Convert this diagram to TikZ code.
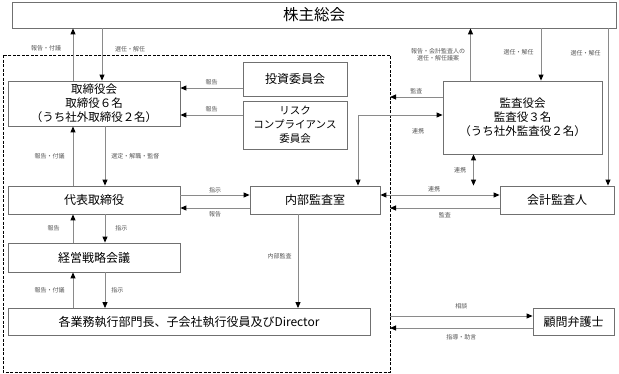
\documentclass[tikz,border=0pt]{standalone}
\usepackage{fontspec}
\setmainfont{Noto Sans CJK JP}
\usetikzlibrary{arrows.meta}
\definecolor{boxgray}{HTML}{707070}
\definecolor{linegray}{HTML}{8A8A8A}
\definecolor{labgray}{HTML}{555555}
\tikzset{
  box/.style={draw=boxgray, line width=0.8pt, fill=white, inner sep=0pt, align=center,
    font=\fontsize{12}{14}\selectfont},
  tip/.tip={Triangle[length=6pt,width=5pt,color=black]},
  arr/.style={draw=linegray, line width=0.9pt, -tip},
  darr/.style={draw=linegray, line width=0.9pt, tip-tip},
  lab/.style={font=\fontsize{6}{7}\selectfont, text=labgray, inner sep=1pt, align=center},
  dashbox/.style={draw=black, line width=1pt, dash pattern=on 3pt off 1.5pt}
}
\begin{document}
\begin{tikzpicture}[x=1pt,y=-1pt]
\useasboundingbox (0,0) rectangle (619,373);
% dashed region
\draw[dashbox] (3,55) rectangle (390,372);
% boxes
\node[box, minimum width=604, minimum height=26, font=\fontsize{15.5}{17}\selectfont] (sh) at (314,15) {株主総会};
\node[box, minimum width=172, minimum height=45, font=\fontsize{11.5}{14}\selectfont] (bod) at (94,103.5) {取締役会\\取締役６名\\（うち社外取締役２名）};
\node[box, minimum width=104, minimum height=34] (inv) at (295,79) {投資委員会};
\node[box, minimum width=104, minimum height=48, font=\fontsize{10.5}{14}\selectfont] (risk) at (295,125) {リスク\\コンプライアンス\\委員会};
\node[box, minimum width=172, minimum height=28] (rep) at (94,200) {代表取締役};
\node[box, minimum width=130, minimum height=28] (ia) at (315,200) {内部監査室};
\node[box, minimum width=159, minimum height=73, font=\fontsize{11.5}{14}\selectfont] (kan) at (522.5,117.5) {監査役会\\監査役３名\\（うち社外監査役２名）};
\node[box, minimum width=114, minimum height=28] (aud) at (557,200) {会計監査人};
\node[box, minimum width=172, minimum height=29] (strat) at (94,257.5) {経営戦略会議};
\node[box, minimum width=362, minimum height=27] (exec) at (189,322) {各業務執行部門長、子会社執行役員及びDirector};
\node[box, minimum width=81, minimum height=27] (law) at (573.5,322) {顧問弁護士};
% coordinates on the dashed boundary
\coordinate (bA) at (390,97);
\coordinate (bB) at (390,208);
\coordinate (bC) at (390,316);
\coordinate (bD) at (390,328);
\coordinate (cT) at (358,115);
% shareholders <-> board
\draw[arr] ([xshift=-21pt]bod.north) -- ([xshift=-21pt]bod.north |- sh.south);
\node[lab] (l1) at (46,48) {報告・付議};
\draw[arr] ([xshift=8pt]bod.north |- sh.south) -- ([xshift=8pt]bod.north);
\node[lab] (l2) at (130,49) {選任・解任};
% committees -> board
\draw[arr] (inv.west |- 0,88) -- (bod.east |- 0,88) node[lab, pos=0.5, above=2pt] {報告};
\draw[arr] (risk.west |- 0,115) -- (bod.east |- 0,115) node[lab, pos=0.5, above=2pt] {報告};
% board <-> representative director
\draw[arr] ([xshift=-21pt]rep.north) -- ([xshift=-21pt]rep.north |- bod.south)
  node[lab, pos=0.5, left=7pt] {報告・付議};
\draw[arr] ([xshift=11pt]rep.north |- bod.south) -- ([xshift=11pt]rep.north)
  node[lab, pos=0.5, right=5pt] {選定・解職・監督};
% representative <-> internal audit office
\draw[arr] (rep.east |- 0,195) -- (ia.west |- 0,195) node[lab, pos=0.5, above=1pt] {指示};
\draw[arr] (ia.west |- 0,208) -- (rep.east |- 0,208) node[lab, pos=0.5, below=2pt] {報告};
% representative <-> strategy meeting
\draw[arr] ([xshift=-21pt]strat.north) -- ([xshift=-21pt]strat.north |- rep.south)
  node[lab, pos=0.5, left=12pt] {報告};
\draw[arr] ([xshift=11pt]strat.north |- rep.south) -- ([xshift=11pt]strat.north)
  node[lab, pos=0.5, right=9pt] {指示};
% strategy meeting <-> executives
\draw[arr] ([xshift=-21pt]strat.south |- exec.north) -- ([xshift=-21pt]strat.south)
  node[lab, pos=0.5, left=7pt] {報告・付議};
\draw[arr] ([xshift=11pt]strat.south) -- ([xshift=11pt]strat.south |- exec.north)
  node[lab, pos=0.5, right=5pt] {指示};
% internal audit -> executives
\draw[arr] ([xshift=-17pt]ia.south) -- ([xshift=-17pt]ia.south |- exec.north)
  node[lab, pos=0.45, left=5pt] {内部監査};
% shareholders <-> audit board
\draw[arr] ([xshift=-52pt]kan.north) -- ([xshift=-52pt]kan.north |- sh.south)
  node[lab, pos=0.5, left=4pt] {報告・会計監査人の\\選任・解任議案};
\draw[arr] ([xshift=18.5pt]kan.north |- sh.south) -- ([xshift=18.5pt]kan.north)
  node[lab, pos=0.45, left=6pt] {選任・解任};
\draw[arr] ([xshift=51pt]aud.north |- sh.south) -- ([xshift=51pt]aud.north)
  node[lab, pos=0.16, left=6pt] {選任・解任};
% audit board -> dashed region
\draw[arr] (kan.west |- bA) -- (bA) node[lab, pos=0.5, above=2pt] {監査};
% audit board <-> internal audit office
\draw[darr] (kan.west |- cT) -- (cT) -- (cT |- ia.north);
\node[lab] (lrenkei1) at (418,131) {連携};
% audit board <-> accounting auditor
\draw[darr] ([xshift=-49pt]kan.south) -- ([xshift=-49pt]kan.south |- aud.north)
  node[lab, pos=0.5, left=6pt] {連携};
% internal audit <-> accounting auditor
\draw[darr] (ia.east |- 0,195) -- (aud.west |- 0,195) node[lab, pos=0.45, above=2pt] {連携};
\draw[arr] (aud.west |- bB) -- (bB) node[lab, pos=0.5, below=3pt] {監査};
% legal counsel
\draw[arr] (bC) -- (law.west |- bC) node[lab, pos=0.5, above=6pt] {相談};
\draw[arr] (law.west |- bD) -- (bD) node[lab, pos=0.5, below=5pt] {指導・助言};
\end{tikzpicture}
\end{document}
